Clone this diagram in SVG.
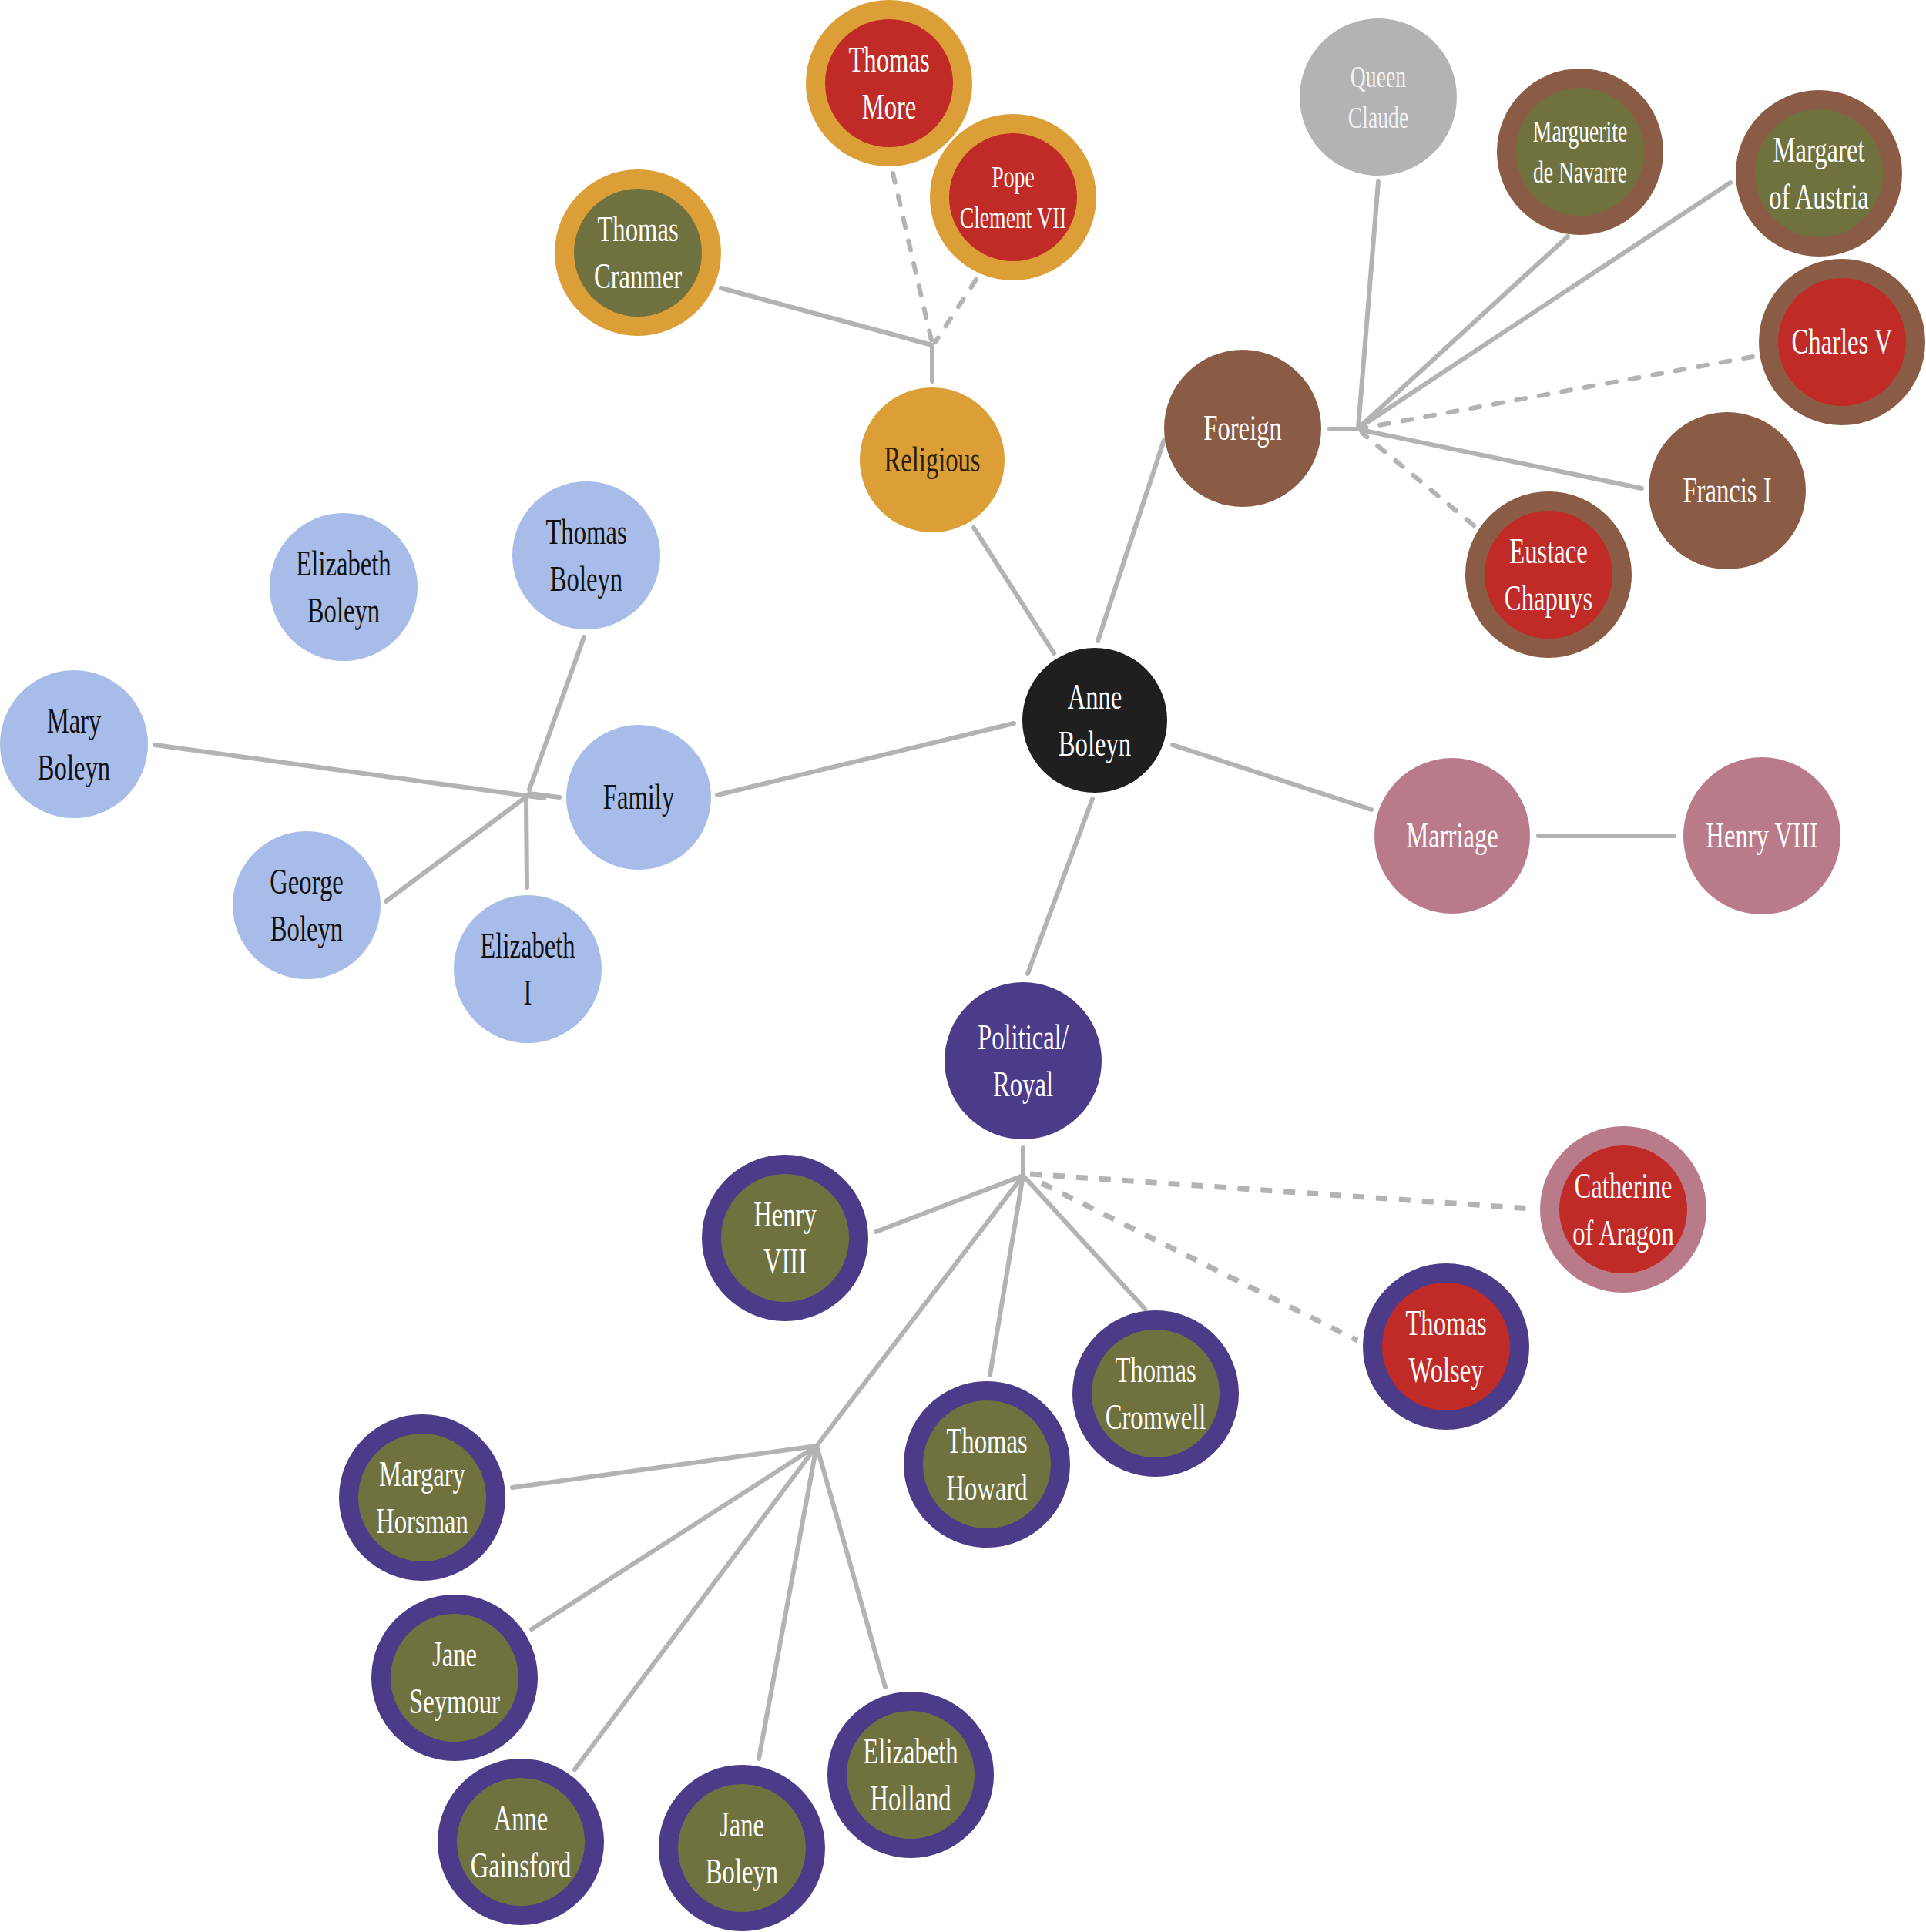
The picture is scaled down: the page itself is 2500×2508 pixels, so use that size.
<svg xmlns="http://www.w3.org/2000/svg" width="2500" height="2508" viewBox="0 0 2500 2508">
<style>
.t{font-family:"Liberation Serif","Times New Roman",serif;font-size:46px;text-anchor:middle}
.s{font-size:39px}
.w{fill:#ffffff}.k{fill:#111111}.d{fill:#2a1e0c}.lg{fill:#f2f2f2}
.ln{stroke:#b3b3b3;stroke-width:6;stroke-linecap:round;fill:none}
.da{stroke-dasharray:12 18}
.db{stroke-dasharray:15 15;stroke-linecap:butt;stroke-width:7}
.gold{fill:#dc9f38}.brown{fill:#8b5c45}.pink{fill:#b97b8a}.purple{fill:#4b3b89}
.olive{fill:#6f723f}.red{fill:#c02b27}.blue{fill:#a7bce9}.gray{fill:#b3b3b3}.black{fill:#1f1f1f}
</style>
<rect width="2500" height="2508" fill="#ffffff"/>
<g id="connectors">
<line class="ln" x1="1368" y1="848" x2="1264" y2="685"/>
<line class="ln" x1="1210" y1="495" x2="1210" y2="448"/>
<line class="ln" x1="936" y1="374" x2="1210" y2="448"/>
<line class="ln da" x1="1159" y1="225" x2="1210" y2="446"/>
<line class="ln da" x1="1267" y1="363" x2="1214" y2="444"/>
<line class="ln" x1="1425" y1="832" x2="1511" y2="571"/>
<line class="ln" x1="1726" y1="557" x2="1763" y2="557"/>
<line class="ln" x1="1789" y1="236" x2="1763" y2="556"/>
<line class="ln" x1="2035" y1="307" x2="1763" y2="556"/>
<line class="ln" x1="2246" y1="237" x2="1763" y2="556"/>
<line class="ln da" x1="2275" y1="463" x2="1768" y2="556"/>
<line class="ln" x1="2131" y1="634" x2="1766" y2="558"/>
<line class="ln da" x1="1913" y1="682" x2="1768" y2="562"/>
<line class="ln" x1="1522" y1="967" x2="1780" y2="1051"/>
<line class="ln" x1="1997" y1="1085" x2="2173" y2="1085"/>
<line class="ln" x1="1316" y1="939" x2="931" y2="1032"/>
<line class="ln" x1="726" y1="1035" x2="687" y2="1030"/>
<line class="ln" x1="758" y1="827" x2="687" y2="1025"/>
<line class="ln" x1="201" y1="967" x2="706" y2="1036"/>
<line class="ln" x1="501" y1="1170" x2="685" y2="1033"/>
<line class="ln" x1="684" y1="1152" x2="683" y2="1036"/>
<line class="ln" x1="1418" y1="1037" x2="1334" y2="1264"/>
<line class="ln" x1="1328" y1="1490" x2="1328" y2="1526"/>
<line class="ln" x1="1137" y1="1599" x2="1328" y2="1526"/>
<line class="ln" x1="1285" y1="1785" x2="1328" y2="1526"/>
<line class="ln" x1="1486" y1="1699" x2="1328" y2="1526"/>
<line class="ln db" x1="1352" y1="1536" x2="1762" y2="1740"/>
<line class="ln db" x1="1337" y1="1524" x2="1988" y2="1569"/>
<line class="ln" x1="1328" y1="1526" x2="1060" y2="1877"/>
<line class="ln" x1="665" y1="1931" x2="1060" y2="1877"/>
<line class="ln" x1="690" y1="2115" x2="1060" y2="1877"/>
<line class="ln" x1="746" y1="2297" x2="1060" y2="1877"/>
<line class="ln" x1="985" y1="2283" x2="1060" y2="1877"/>
<line class="ln" x1="1149" y1="2190" x2="1060" y2="1877"/>
</g>
<g id="anne-boleyn" transform="translate(1421,935)"><circle r="94" class="black"/><text class="t w" transform="scale(0.71,1)"><tspan x="0" y="-15">Anne</tspan><tspan x="0" y="46">Boleyn</tspan></text></g>
<g id="religious" transform="translate(1210,597)"><circle r="94" class="gold"/><text class="t d" transform="scale(0.71,1)" x="0" y="15">Religious</text></g>
<g id="thomas-more" transform="translate(1154,108)"><circle r="108" class="gold"/><circle r="83" class="red"/><text class="t w" transform="scale(0.71,1)"><tspan x="0" y="-15">Thomas</tspan><tspan x="0" y="46">More</tspan></text></g>
<g id="pope-clement" transform="translate(1315,256)"><circle r="108" class="gold"/><circle r="83" class="red"/><text class="t s w" transform="scale(0.71,1)"><tspan x="0" y="-13">Pope</tspan><tspan x="0" y="40">Clement VII</tspan></text></g>
<g id="thomas-cranmer" transform="translate(828,328)"><circle r="108" class="gold"/><circle r="83" class="olive"/><text class="t w" transform="scale(0.71,1)"><tspan x="0" y="-15">Thomas</tspan><tspan x="0" y="46">Cranmer</tspan></text></g>
<g id="foreign" transform="translate(1613,556)"><circle r="102" class="brown"/><text class="t w" transform="scale(0.71,1)" x="0" y="15">Foreign</text></g>
<g id="queen-claude" transform="translate(1789,126)"><circle r="102" class="gray"/><text class="t s lg" transform="scale(0.71,1)"><tspan x="0" y="-13">Queen</tspan><tspan x="0" y="40">Claude</tspan></text></g>
<g id="marguerite" transform="translate(2051,197)"><circle r="108" class="brown"/><circle r="83" class="olive"/><text class="t s w" transform="scale(0.71,1)"><tspan x="0" y="-13">Marguerite</tspan><tspan x="0" y="40">de Navarre</tspan></text></g>
<g id="margaret" transform="translate(2361,225)"><circle r="108" class="brown"/><circle r="83" class="olive"/><text class="t w" transform="scale(0.71,1)"><tspan x="0" y="-15">Margaret</tspan><tspan x="0" y="46">of Austria</tspan></text></g>
<g id="charles-v" transform="translate(2391,444)"><circle r="108" class="brown"/><circle r="83" class="red"/><text class="t w" transform="scale(0.71,1)" x="0" y="15">Charles V</text></g>
<g id="francis-i" transform="translate(2242,637)"><circle r="102" class="brown"/><text class="t w" transform="scale(0.71,1)" x="0" y="15">Francis I</text></g>
<g id="eustace-chapuys" transform="translate(2010,746)"><circle r="108" class="brown"/><circle r="83" class="red"/><text class="t w" transform="scale(0.71,1)"><tspan x="0" y="-15">Eustace</tspan><tspan x="0" y="46">Chapuys</tspan></text></g>
<g id="marriage" transform="translate(1885,1085)"><circle r="101" class="pink"/><text class="t w" transform="scale(0.71,1)" x="0" y="15">Marriage</text></g>
<g id="henry-viii-marriage" transform="translate(2287,1085)"><circle r="102" class="pink"/><text class="t w" transform="scale(0.71,1)" x="0" y="15">Henry VIII</text></g>
<g id="family" transform="translate(829,1035)"><circle r="94" class="blue"/><text class="t k" transform="scale(0.71,1)" x="0" y="15">Family</text></g>
<g id="elizabeth-boleyn" transform="translate(446,762)"><circle r="96" class="blue"/><text class="t k" transform="scale(0.71,1)"><tspan x="0" y="-15">Elizabeth</tspan><tspan x="0" y="46">Boleyn</tspan></text></g>
<g id="thomas-boleyn" transform="translate(761,721)"><circle r="96" class="blue"/><text class="t k" transform="scale(0.71,1)"><tspan x="0" y="-15">Thomas</tspan><tspan x="0" y="46">Boleyn</tspan></text></g>
<g id="mary-boleyn" transform="translate(96,966)"><circle r="96" class="blue"/><text class="t k" transform="scale(0.71,1)"><tspan x="0" y="-15">Mary</tspan><tspan x="0" y="46">Boleyn</tspan></text></g>
<g id="george-boleyn" transform="translate(398,1175)"><circle r="96" class="blue"/><text class="t k" transform="scale(0.71,1)"><tspan x="0" y="-15">George</tspan><tspan x="0" y="46">Boleyn</tspan></text></g>
<g id="elizabeth-i" transform="translate(685,1258)"><circle r="96" class="blue"/><text class="t k" transform="scale(0.71,1)"><tspan x="0" y="-15">Elizabeth</tspan><tspan x="0" y="46">I</tspan></text></g>
<g id="political-royal" transform="translate(1328,1377)"><circle r="102" class="purple"/><text class="t w" transform="scale(0.71,1)"><tspan x="0" y="-15">Political/</tspan><tspan x="0" y="46">Royal</tspan></text></g>
<g id="henry-viii" transform="translate(1019,1607)"><circle r="108" class="purple"/><circle r="83" class="olive"/><text class="t w" transform="scale(0.71,1)"><tspan x="0" y="-15">Henry</tspan><tspan x="0" y="46">VIII</tspan></text></g>
<g id="thomas-howard" transform="translate(1281,1901)"><circle r="108" class="purple"/><circle r="83" class="olive"/><text class="t w" transform="scale(0.71,1)"><tspan x="0" y="-15">Thomas</tspan><tspan x="0" y="46">Howard</tspan></text></g>
<g id="thomas-cromwell" transform="translate(1500,1809)"><circle r="108" class="purple"/><circle r="83" class="olive"/><text class="t w" transform="scale(0.71,1)"><tspan x="0" y="-15">Thomas</tspan><tspan x="0" y="46">Cromwell</tspan></text></g>
<g id="thomas-wolsey" transform="translate(1877,1748)"><circle r="108" class="purple"/><circle r="83" class="red"/><text class="t w" transform="scale(0.71,1)"><tspan x="0" y="-15">Thomas</tspan><tspan x="0" y="46">Wolsey</tspan></text></g>
<g id="catherine-of-aragon" transform="translate(2107,1570)"><circle r="108" class="pink"/><circle r="83" class="red"/><text class="t w" transform="scale(0.71,1)"><tspan x="0" y="-15">Catherine</tspan><tspan x="0" y="46">of Aragon</tspan></text></g>
<g id="margary-horsman" transform="translate(548,1944)"><circle r="108" class="purple"/><circle r="83" class="olive"/><text class="t w" transform="scale(0.71,1)"><tspan x="0" y="-15">Margary</tspan><tspan x="0" y="46">Horsman</tspan></text></g>
<g id="jane-seymour" transform="translate(590,2178)"><circle r="108" class="purple"/><circle r="83" class="olive"/><text class="t w" transform="scale(0.71,1)"><tspan x="0" y="-15">Jane</tspan><tspan x="0" y="46">Seymour</tspan></text></g>
<g id="anne-gainsford" transform="translate(676,2391)"><circle r="108" class="purple"/><circle r="83" class="olive"/><text class="t w" transform="scale(0.71,1)"><tspan x="0" y="-15">Anne</tspan><tspan x="0" y="46">Gainsford</tspan></text></g>
<g id="jane-boleyn" transform="translate(963,2399)"><circle r="108" class="purple"/><circle r="83" class="olive"/><text class="t w" transform="scale(0.71,1)"><tspan x="0" y="-15">Jane</tspan><tspan x="0" y="46">Boleyn</tspan></text></g>
<g id="elizabeth-holland" transform="translate(1182,2304)"><circle r="108" class="purple"/><circle r="83" class="olive"/><text class="t w" transform="scale(0.71,1)"><tspan x="0" y="-15">Elizabeth</tspan><tspan x="0" y="46">Holland</tspan></text></g>
</svg>
